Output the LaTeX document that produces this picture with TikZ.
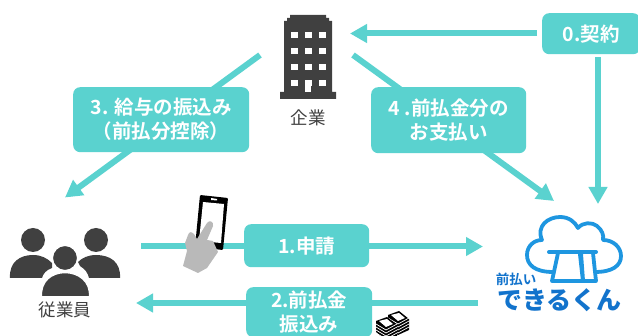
\documentclass[tikz,border=0pt]{standalone}
\usepackage{fontspec}
\usetikzlibrary{arrows.meta}
\newfontfamily\jpb{Noto Sans CJK JP Bold}
\newfontfamily\jpk{Noto Sans CJK JP Black}
\newfontfamily\jpr{Noto Sans CJK JP}
\definecolor{teal}{HTML}{5AD2CF}
\definecolor{icon}{HTML}{404040}
\definecolor{blue}{HTML}{1E96E0}
\definecolor{dblue}{HTML}{1273CC}
\tikzset{
 lab/.style={fill=teal,rounded corners=7pt,text=white,font=\jpb\fontsize{19.5}{24}\selectfont,align=center,inner sep=0pt,anchor=north west},
 conn/.style={draw=teal,line width=6pt},
 arr/.style={conn,-{Triangle[length=17pt,width=18pt]}},
 captxt/.style={font=\jpr\fontsize{17.5}{19}\selectfont,text=icon,inner sep=0pt}
}
\begin{document}
\begin{tikzpicture}[x=1pt,y=-1pt]
\useasboundingbox (0,0) rectangle (638,336);
% anchors
\coordinate (c0) at (350,33.5);
\coordinate (a0) at (598,204);
\coordinate (s3) at (260,55);
\coordinate (e3) at (65,197.5);
\coordinate (s4) at (353,55);
\coordinate (e4) at (554,201);
\coordinate (s1) at (141,246.5);
\coordinate (e1) at (483,246.5);
\coordinate (s2) at (478,303);
\coordinate (e2) at (136,303);
% connectors
\draw[arr] (s3) -- (e3);
\draw[arr] (s4) -- (e4);
\draw[arr] (s1) -- (e1);
\draw[arr] (s2) -- (e2);
% labels
\node[lab,minimum width=98pt,minimum height=41pt] (n0) at (542,13) {0.契約};
\node[lab,minimum width=176pt,minimum height=65pt] (n3) at (73,87) {3. 給与の振込み\\（前払分控除）\\[-21pt]};
\node[lab,minimum width=155pt,minimum height=66pt] (n4) at (371,87) {4 .前払金分の\\お支払い\\[-21pt]};
\node[lab,minimum width=125pt,minimum height=43pt] (n1) at (244,224) {1.申請};
\node[lab,minimum width=126pt,minimum height=50pt] (n2) at (246,287) {2.前払金\\振込み};
\draw[arr,shorten <=5pt] (n0.west |- c0) -- (c0);
\draw[arr,shorten <=3pt] (n0.south -| a0) -- (a0);
% building
\fill[icon] (290,15) -- (326,15) -- (326,18) -- (329,18) -- (329,21) -- (332,21) -- (332,92) -- (336,92) -- (336,99) -- (280,99) -- (280,92) -- (284,92) -- (284,21) -- (287,21) -- (287,18) -- (290,18) -- cycle;
\foreach \y in {32,48,64,80} \foreach \x in {291,305,319} {
  \fill[white] (\x,\y) rectangle +(6.5,6.5); }
\fill[white] (305,80) rectangle (311,92);
\node[captxt] (co) at (308,118) {企業};
% people
\fill[icon] (33,240) circle (12);
\fill[icon] (96,240) circle (12);
\fill[icon] (10,278) .. controls (9,262) and (20,255) .. (33,255) .. controls (41,255) and (47,258) .. (52,263) -- (52,268) .. controls (46,270) and (43,274) .. (42,278) -- cycle;
\fill[icon] (120,278) .. controls (121,262) and (110,255) .. (96,255) .. controls (88,255) and (82,258) .. (78,262) -- (80,266) .. controls (85,269) and (88,273) .. (89,278) -- cycle;
\filldraw[fill=icon,draw=white,line width=1.5pt] (65,258) circle (12.7);
\filldraw[fill=icon,draw=white,line width=1.5pt] (41.5,297) .. controls (40,281) and (52,272.5) .. (65,272.5) .. controls (78,272.5) and (91,281) .. (89.5,297) -- cycle;
\node[captxt] (em) at (65,310) {従業員};
% phone
\fill[black,rounded corners=1pt] (200,195) -- (228,198) -- (223,250) -- (195,247) -- cycle;
\fill[white] (203,202) -- (224,204) -- (221,243) -- (199,241) -- cycle;
\fill[white] (211,198) -- (217,199) -- (217,200.5) -- (211,200) -- cycle;
% hand
\fill[gray!55] (183,266) -- (198,273) -- (207,268) -- (218,252) -- (213,241) -- (207,240) -- (213,226) .. controls (214,221) and (209,220) .. (207,223) -- (197,239) -- (194,234) .. controls (191,231) and (189,232) .. (188,235) -- (185,243) -- (187,251) -- cycle;
% money
\foreach \xa/\ya in {388/315,376/321}{
  \fill[black] (\xa,\ya) -- (\xa+11,\ya-4) -- (\xa+21,\ya+4) -- (\xa+21,\ya+15) -- (\xa+10,\ya+20) -- (\xa,\ya+11) -- cycle;
  \foreach \k in {3,6,9,12}
    \draw[white,line width=.7pt] (\xa,\ya+\k) -- (\xa+10,\ya+\k+6) -- (\xa+21,\ya+\k);
  \fill[white] (\xa+3,\ya) -- (\xa+11,\ya-2) -- (\xa+17,\ya+3) -- (\xa+10,\ya+6) -- cycle;
}
% cloud logo
\draw[blue,line width=3.8pt,line join=round] (553,272)
  .. controls (535,272) and (527,265) .. (527,255)
  .. controls (527,246) and (534,240) .. (542,240)
  .. controls (536,226) and (548,217) .. (560,217)
  .. controls (569,217) and (575,222) .. (578,228)
  .. controls (583,222) and (592,222) .. (597,226)
  .. controls (602,230) and (604,235) .. (603,240)
  .. controls (613,240) and (621,247) .. (621,256)
  .. controls (621,266) and (612,272) .. (595,272);
\draw[blue,line width=4pt,line cap=round] (549,252) -- (596,252);
\draw[blue,line width=3.8pt,line join=round] (558,253) -- (552,281) -- (596,281) -- (593,253);
\fill[blue] (578,254) -- (583,254) -- (585,281) -- (581,281) -- cycle;
\node[font=\jpb\fontsize{13.5}{14}\selectfont,text=dblue,inner sep=0pt] (mae) at (516,279) {前払い};
\node[font=\jpk\fontsize{25}{26}\selectfont,text=dblue,inner sep=0pt] (dk) at (559.5,300) {できるくん};
\end{tikzpicture}
\end{document}
